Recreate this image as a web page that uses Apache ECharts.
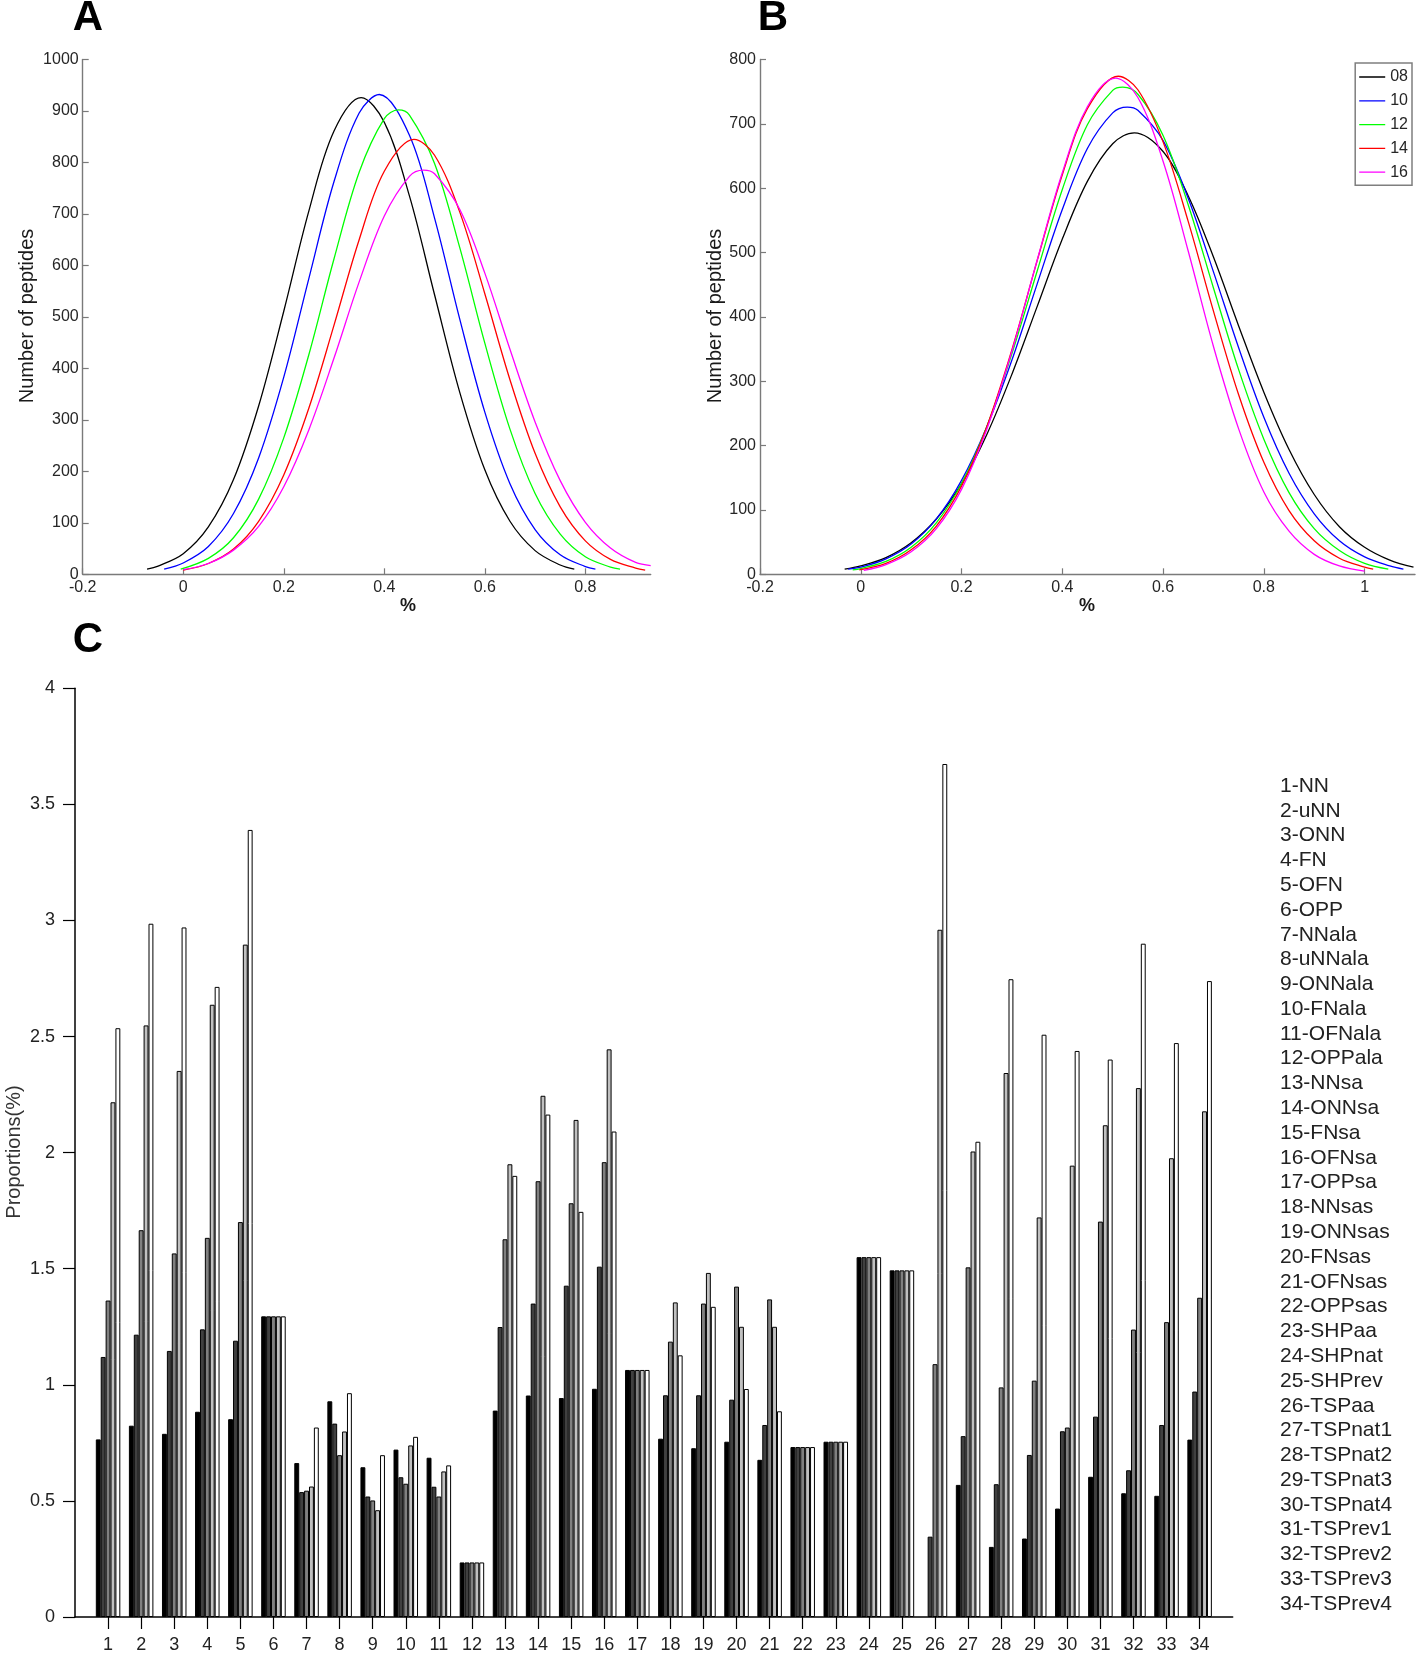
<!DOCTYPE html>
<html>
<head>
<meta charset="utf-8">
<script src="https://cdn.jsdelivr.net/npm/echarts@6/dist/echarts.min.js"></script>
<style>
html,body{margin:0;padding:0;background:#fff;}
#c{width:1418px;height:1654px;}
</style>
</head>
<body>
<div id="c"></div>
<script>
// ---------- Panel A curves: [x (%), number of peptides] ----------
const A08 = [[-0.072,10],[-0.05,16],[0,40],[0.05,92],[0.1,184],[0.15,327],[0.2,511],[0.25,706],[0.3,861],[0.354,926],[0.4,878],[0.45,735],[0.5,543],[0.55,354],[0.6,203],[0.65,103],[0.7,46],[0.75,18],[0.778,10]];
const A10 = [[-0.038,10],[0,22],[0.05,54],[0.1,118],[0.15,226],[0.2,383],[0.25,575],[0.3,763],[0.35,896],[0.39,932],[0.45,853],[0.5,692],[0.55,496],[0.6,315],[0.65,176],[0.7,87],[0.75,38],[0.8,15],[0.82,10]];
const A12 = [[-0.005,10],[0.05,31],[0.1,71],[0.15,146],[0.2,265],[0.25,427],[0.3,613],[0.35,781],[0.4,885],[0.428,902],[0.45,892],[0.5,798],[0.55,635],[0.6,449],[0.65,282],[0.7,157],[0.75,78],[0.8,34],[0.85,14],[0.869,10]];
const A14 = [[0,8],[0.05,21],[0.1,49],[0.15,103],[0.2,193],[0.25,323],[0.3,484],[0.35,650],[0.4,783],[0.459,845],[0.5,814],[0.55,704],[0.6,545],[0.65,378],[0.7,235],[0.75,131],[0.8,65],[0.85,29],[0.9,12],[0.919,8]];
const A16 = [[0,9],[0.05,21],[0.1,47],[0.15,93],[0.2,170],[0.25,281],[0.3,420],[0.35,568],[0.4,696],[0.45,773],[0.478,785],[0.5,778],[0.55,709],[0.6,585],[0.65,437],[0.7,296],[0.75,182],[0.8,101],[0.85,51],[0.9,23],[0.93,17]];

// ---------- Panel B curves ----------
const B08 = [[-0.032,8],[0,13],[0.05,26],[0.1,49],[0.15,86],[0.2,141],[0.25,217],[0.3,311],[0.35,416],[0.4,521],[0.45,611],[0.5,669],[0.543,686],[0.6,657],[0.65,588],[0.7,493],[0.75,386],[0.8,283],[0.85,194],[0.9,124],[0.95,74],[1.0,42],[1.05,22],[1.097,11]];
const B10 = [[-0.025,8],[0,11],[0.05,24],[0.1,47],[0.15,86],[0.2,146],[0.25,229],[0.3,333],[0.35,451],[0.4,567],[0.45,662],[0.5,717],[0.529,726],[0.55,721],[0.6,674],[0.65,584],[0.7,470],[0.75,352],[0.8,244],[0.85,157],[0.9,94],[0.95,52],[1.0,27],[1.05,13],[1.077,8]];
const B12 = [[-0.016,7],[0,9],[0.05,20],[0.1,42],[0.15,80],[0.2,141],[0.25,229],[0.3,343],[0.35,471],[0.4,598],[0.45,699],[0.5,752],[0.52,757],[0.55,746],[0.6,682],[0.65,574],[0.7,445],[0.75,318],[0.8,210],[0.85,127],[0.9,71],[0.95,37],[1.0,17],[1.047,8]];
const B14 = [[-0.003,7],[0.05,17],[0.1,38],[0.15,75],[0.2,137],[0.25,229],[0.3,349],[0.35,487],[0.4,621],[0.45,724],[0.511,774],[0.55,753],[0.6,672],[0.65,548],[0.7,409],[0.75,279],[0.8,174],[0.85,99],[0.9,52],[0.95,25],[1.0,11],[1.017,8]];
const B16 = [[0.006,6],[0.05,15],[0.1,35],[0.15,71],[0.2,132],[0.25,225],[0.3,347],[0.35,488],[0.4,624],[0.45,727],[0.506,771],[0.55,741],[0.6,642],[0.65,502],[0.7,354],[0.75,226],[0.8,128],[0.85,67],[0.9,31],[0.95,13],[1.0,5]];

const curveNames = ['08','10','12','14','16'];
const curveColors = ['#000000','#0000ff','#00ff00','#ff0000','#ff00ff'];

const xTicksA = [-0.2,0,0.2,0.4,0.6,0.8];
const xTicksB = [-0.2,0,0.2,0.4,0.6,0.8,1];

// ---------- Panel C: grouped bars ----------
const groupLabels = ['1','2','3','4','5','6','7','8','9','10','11','12','13','14','15','16','17','18','19','20','21','22','23','24','25','26','27','28','29','30','31','32','33','34'];
const bar1 = [0.765,0.824,0.789,0.884,0.852,1.295,0.663,0.929,0.645,0.721,0.686,0.235,0.889,0.954,0.943,0.983,1.064,0.768,0.727,0.755,0.677,0.732,0.755,1.55,1.493,null,0.569,0.302,0.338,0.467,0.604,0.533,0.522,0.764];
const bar2 = [1.12,1.216,1.146,1.239,1.19,1.295,0.538,0.833,0.519,0.602,0.561,0.235,1.249,1.35,1.427,1.509,1.064,0.955,0.955,0.936,0.827,0.732,0.755,1.55,1.493,0.346,0.779,0.572,0.698,0.80,0.863,0.632,0.827,0.971];
const bar3 = [1.363,1.666,1.566,1.633,1.701,1.295,0.544,0.697,0.502,0.574,0.519,0.235,1.627,1.877,1.782,1.959,1.064,1.186,1.35,1.423,1.368,0.732,0.755,1.55,1.493,1.089,1.506,0.989,1.018,0.816,1.703,1.238,1.27,1.375];
const bar4 = [2.217,2.548,2.352,2.637,2.896,1.295,0.562,0.799,0.46,0.739,0.627,0.235,1.95,2.245,2.141,2.445,1.064,1.355,1.482,1.25,1.25,0.732,0.755,1.55,1.493,2.96,2.005,2.343,1.721,1.944,2.118,2.278,1.976,2.178];
const bar5 = [2.536,2.986,2.97,2.714,3.39,1.295,0.816,0.964,0.697,0.776,0.653,0.235,1.90,2.164,1.745,2.091,1.064,1.127,1.336,0.982,0.886,0.732,0.755,1.55,1.493,3.674,2.047,2.747,2.508,2.438,2.401,2.9,2.472,2.739];
const barColors = ['#000000','#404040','#808080','#c0c0c0','#ffffff'];

const keyLabels = ['1-NN','2-uNN','3-ONN','4-FN','5-OFN','6-OPP','7-NNala','8-uNNala','9-ONNala','10-FNala','11-OFNala','12-OPPala','13-NNsa','14-ONNsa','15-FNsa','16-OFNsa','17-OPPsa','18-NNsas','19-ONNsas','20-FNsas','21-OFNsas','22-OPPsas','23-SHPaa','24-SHPnat','25-SHPrev','26-TSPaa','27-TSPnat1','28-TSPnat2','29-TSPnat3','30-TSPnat4','31-TSPrev1','32-TSPrev2','33-TSPrev3','34-TSPrev4'];

// ---------- build ----------
const FONT = "'Liberation Sans', Arial, sans-serif";
const catsC = [''].concat(groupLabels, ['']);
const padBar = arr => [null].concat(arr, [null]);
const plain = v => String(v);
// thin horizontal line icon inside a 26x14 box (tiny corner specks fix the box size)
const LINE_ICON = 'path://M0,6.35h26v1.3h-26z M0,0h0.01v0.01h-0.01z M25.99,13.99h0.01v0.01h-0.01z';

const lineSeries = [];
[[A08,A10,A12,A14,A16],[B08,B10,B12,B14,B16]].forEach((set, p) => {
  set.forEach((d, i) => {
    lineSeries.push({
      type:'line', name: curveNames[i], xAxisIndex:p, yAxisIndex:p,
      data:d, smooth:0.35, symbol:'none', showSymbol:false,
      lineStyle:{color:curveColors[i], width:1.3}, itemStyle:{color:curveColors[i]},
      z: 2 + i
    });
  });
});

const barSeries = [bar1,bar2,bar3,bar4,bar5].map((b, i) => ({
  type:'bar', name:'S' + (i+1), xAxisIndex:2, yAxisIndex:2,
  data: padBar(b), barWidth:4.9, barGap:'0%',
  itemStyle:{color:barColors[i], borderColor:'#000', borderWidth:1}
}));

const grayAxis = {
  axisLine:{show:true, onZero:false, lineStyle:{color:'#7a7a7a', width:1.4}},
  axisTick:{show:true, inside:true, length:6, lineStyle:{color:'#7a7a7a', width:1.2}},
  axisLabel:{fontSize:16, color:'#262626', fontFamily:FONT},
  splitLine:{show:false}
};

function valX(grid, min, max, ticks) {
  return Object.assign({}, JSON.parse(JSON.stringify(grayAxis)), {
    type:'value', gridIndex:grid, min:min, max:max, interval:0.2,
    axisTick:Object.assign({}, grayAxis.axisTick, {customValues:ticks}),
    axisLabel:Object.assign({}, grayAxis.axisLabel, {customValues:ticks, margin:5, formatter:plain})
  });
}
function valY(grid, max) {
  return Object.assign({}, JSON.parse(JSON.stringify(grayAxis)), {
    type:'value', gridIndex:grid, min:0, max:max, interval:100,
    axisLabel:Object.assign({}, grayAxis.axisLabel, {margin:4, formatter:plain})
  });
}

const graphics = [];
const txt = (t, x, y, size, opts) => graphics.push(Object.assign({
  type:'text', x:x, y:y, silent:true,
  style:Object.assign({text:t, fontSize:size, fontFamily:FONT, fill:'#1a1a1a',
    textAlign:'center', textVerticalAlign:'middle', align:'center', verticalAlign:'middle'}, (opts && opts.style) || {})
}, (opts && opts.el) || {}));

txt('A', 88, 18, 42, {style:{fontWeight:'bold', fill:'#000'}});
txt('B', 773, 18, 42, {style:{fontWeight:'bold', fill:'#000'}});
txt('C', 88, 640, 42, {style:{fontWeight:'bold', fill:'#000'}});
txt('Number of peptides', 27, 316, 20, {el:{rotation:Math.PI/2}});
txt('Number of peptides', 715, 316, 20, {el:{rotation:Math.PI/2}});
txt('%', 408, 606, 18, {style:{fontWeight:'bold'}});
txt('%', 1087, 606, 18, {style:{fontWeight:'bold'}});
txt('Proportions(%)', 14, 1152, 20, {el:{rotation:Math.PI/2}, style:{fill:'#333'}});
keyLabels.forEach((k, i) => {
  txt(k, 1280, 786 + i * 24.79, 21, {style:{textAlign:'left', align:'left', fill:'#222'}});
});

const option = {
  animation:false,
  backgroundColor:'#ffffff',
  textStyle:{fontFamily:FONT},
  grid:[
    {left:82.7, top:59.5, width:568, height:514.8},
    {left:760, top:59.5, width:655, height:514.8},
    {left:75, top:688.3, width:1157.7, height:929.4}
  ],
  legend:{
    data:curveNames, orient:'vertical', right:6, top:63,
    icon:LINE_ICON, symbolKeepAspect:false,
    itemWidth:26, itemHeight:14, itemGap:7.8, padding:[6,4,5,4],
    borderColor:'#7f7f7f', borderWidth:1.5, backgroundColor:'#fff',
    selectedMode:false,
    textStyle:{fontSize:16, color:'#262626', fontFamily:FONT}
  },
  xAxis:[
    valX(0, -0.2, 0.93, xTicksA),
    valX(1, -0.2, 1.1, xTicksB),
    {
      type:'category', gridIndex:2, data:catsC, boundaryGap:false,
      axisLine:{show:true, onZero:false, lineStyle:{color:'#000', width:1.5}},
      axisTick:{show:true, inside:false, length:12, interval:(i) => i >= 1 && i <= 34, lineStyle:{color:'#000', width:1.2}},
      axisLabel:{interval:0, margin:19, fontSize:18, color:'#222', fontFamily:FONT},
      splitLine:{show:false}
    }
  ],
  yAxis:[
    valY(0, 1000),
    valY(1, 800),
    {
      type:'value', gridIndex:2, min:0, max:4, interval:0.5,
      axisLine:{show:true, lineStyle:{color:'#000', width:1.5}},
      axisTick:{show:true, inside:false, length:12, lineStyle:{color:'#000', width:1.2}},
      axisLabel:{margin:20, fontSize:18, color:'#222', fontFamily:FONT},
      splitLine:{show:false}
    }
  ],
  series: lineSeries.concat(barSeries),
  graphic: graphics
};

const chart = echarts.init(document.getElementById('c'), null, {renderer:'canvas', width:1418, height:1654});
chart.setOption(option);
</script>
</body>
</html>
